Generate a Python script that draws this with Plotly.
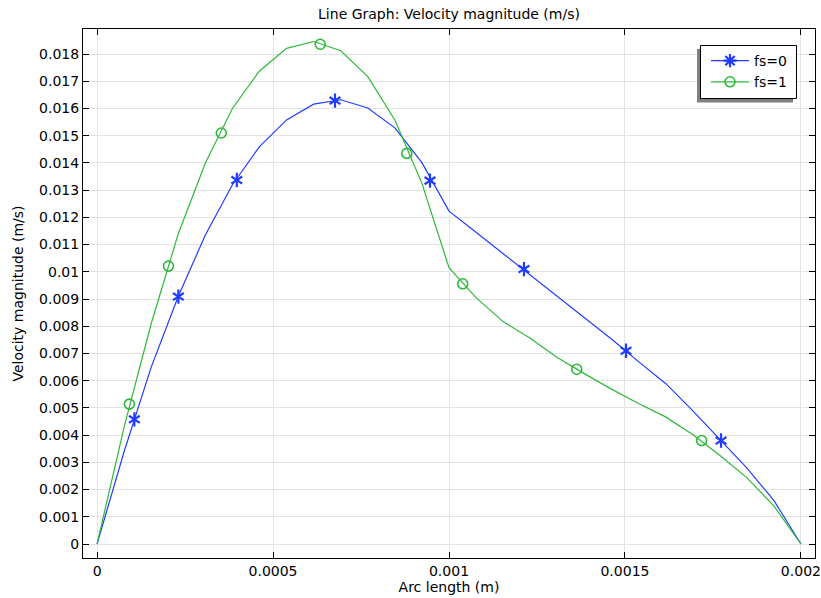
import plotly.graph_objects as go

# ---------------- data ----------------
# Arc length nodes (m)
arc_length = [k * 0.001 / 13 for k in range(27)]

# Velocity magnitude along the arc (m/s)
vel_fs0 = [0.0, 0.0034, 0.0065, 0.0091, 0.01135, 0.0132, 0.0146, 0.01558, 0.01616,
           0.01632, 0.01602, 0.01529, 0.01401, 0.01223, 0.01145, 0.01066, 0.00988,
           0.0091, 0.00831, 0.00753, 0.0067, 0.0059, 0.0049, 0.00385, 0.0028,
           0.0016, 0.0]
vel_fs1 = [0.0, 0.0043, 0.0081, 0.0114, 0.0140, 0.0160, 0.01738, 0.01821, 0.01846,
           0.01812, 0.01717, 0.01558, 0.01325, 0.01015, 0.00905, 0.00817, 0.00756,
           0.00685, 0.00626, 0.00569, 0.00516, 0.00467, 0.00402, 0.00326, 0.00244,
           0.0014, 0.0]

# Marker positions along each curve
mk_x_fs0 = [0.000106, 0.000231, 0.000397, 0.000676, 0.000946, 0.001213, 0.001503, 0.001773]
mk_y_fs0 = [0.00458, 0.00909, 0.01337, 0.01629, 0.01335, 0.0101, 0.0071, 0.0038]
mk_x_fs1 = [0.0000918, 0.000203, 0.000353, 0.000634, 0.00088, 0.001039, 0.001363, 0.001718]
mk_y_fs1 = [0.00514, 0.01021, 0.0151, 0.01836, 0.01435, 0.00956, 0.00642, 0.0038]

series_names = ["fs=0", "fs=1"]
x_ticks = [0, 0.0005, 0.001, 0.0015, 0.002]
x_tick_text = ["0", "0.0005", "0.001", "0.0015", "0.002"]
y_ticks = [i / 1000 for i in range(19)]
y_tick_text = ["0"] + ["%g" % (i / 1000) for i in range(1, 19)]

# ---------------- style ----------------
BLUE = "#1f3cff"
GREEN = "#2cb83a"
FONT = "DejaVu Sans"
W, H = 821, 598
ML, MR, MT, MB = 83, 6, 29, 40

fig = go.Figure()

# fs=0 line + markers
fig.add_trace(go.Scatter(x=arc_length, y=vel_fs0, mode="lines",
                         line=dict(color=BLUE, width=1.2), showlegend=False, hoverinfo="skip"))
for sym in ["y-up-open", "y-down-open"]:
    fig.add_trace(go.Scatter(x=mk_x_fs0, y=mk_y_fs0, mode="markers",
                             marker=dict(symbol=sym, size=9, color=BLUE,
                                         line=dict(color=BLUE, width=2.2)),
                             showlegend=False, hoverinfo="skip"))
# fs=1 line + markers
fig.add_trace(go.Scatter(x=arc_length, y=vel_fs1, mode="lines",
                         line=dict(color=GREEN, width=1.2), showlegend=False, hoverinfo="skip"))
fig.add_trace(go.Scatter(x=mk_x_fs1, y=mk_y_fs1, mode="markers",
                         marker=dict(symbol="circle-open", size=10, color=GREEN,
                                     line=dict(color=GREEN, width=1.6)),
                         showlegend=False, hoverinfo="skip"))

# legend entries
fig.add_trace(go.Scatter(x=[None], y=[None], mode="lines+markers", name=series_names[0],
                         line=dict(color=BLUE, width=1.2),
                         marker=dict(symbol="asterisk-open", size=11, color=BLUE,
                                     line=dict(color=BLUE, width=2.2))))
fig.add_trace(go.Scatter(x=[None], y=[None], mode="lines+markers", name=series_names[1],
                         line=dict(color=GREEN, width=1.2),
                         marker=dict(symbol="circle-open", size=10, color=GREEN,
                                     line=dict(color=GREEN, width=1.6))))

pw = W - ML - MR
ph = H - MT - MB
def px_x(p):
    return (p - ML) / pw
def px_y(p):
    return (H - MB - p) / ph

# legend shadow and frame
fig.add_shape(type="rect", xref="paper", yref="paper",
              x0=px_x(697), x1=px_x(793), y0=px_y(102.5), y1=px_y(49),
              fillcolor="#808080", line=dict(width=0), layer="above")
fig.add_shape(type="rect", xref="paper", yref="paper",
              x0=px_x(700.5), x1=px_x(796.5), y0=px_y(98.5), y1=px_y(45.5),
              fillcolor="white", line=dict(color="black", width=1), layer="above")

axis_common = dict(showline=True, linecolor="black", linewidth=1, mirror="ticks",
                   ticks="inside", ticklen=6, tickcolor="black", tickwidth=1,
                   showgrid=True, gridcolor="#e3e3e3", gridwidth=1, zeroline=False,
                   automargin=False,
                   tickfont=dict(family=FONT, size=14, color="black"))

fig.update_layout(
    width=W, height=H,
    margin=dict(l=ML, r=MR, t=MT, b=MB, pad=0, autoexpand=False),
    paper_bgcolor="white", plot_bgcolor="white",
    font=dict(family=FONT, size=14, color="black"),
    title=dict(text="Line Graph: Velocity magnitude (m/s)", x=px_x(449), xref="paper",
               xanchor="center", y=1 - 14 / H, yanchor="middle",
               font=dict(family=FONT, size=14, color="black")),
    xaxis=dict(range=[-0.00004, 0.00204], tickvals=x_ticks, ticktext=x_tick_text,
               title=dict(text="Arc length (m)", standoff=0,
                          font=dict(family=FONT, size=14, color="black")),
               **axis_common),
    yaxis=dict(range=[-0.000514, 0.01892], tickvals=y_ticks, ticktext=y_tick_text,
               title=dict(text="Velocity magnitude (m/s)", standoff=12,
                          font=dict(family=FONT, size=14, color="black")),
               **axis_common),
    legend=dict(x=px_x(706), xanchor="left", y=px_y(45), yanchor="top",
                bgcolor="rgba(0,0,0,0)", borderwidth=0,
                itemwidth=38,
                font=dict(family=FONT, size=14, color="black"),
                itemclick=False, itemdoubleclick=False),
    showlegend=True,
)

fig.write_html("out.html")
